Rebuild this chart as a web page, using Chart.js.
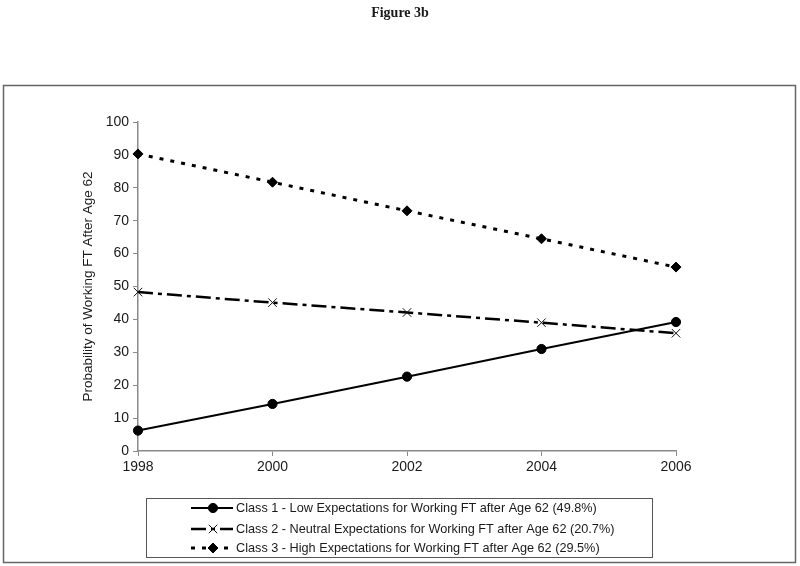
<!DOCTYPE html>
<html>
<head>
<meta charset="utf-8">
<script src="https://cdn.jsdelivr.net/npm/chart.js@4/dist/chart.umd.min.js"></script>
<style>
    html, body { margin: 0; padding: 0; background: #fff; }
    #wrap { width: 800px; height: 566px; position: relative; }
</style>
</head>
<body>
<div id="wrap"><canvas id="myChart" width="800" height="566"></canvas></div>
<script>
const years = ['1998', '2000', '2002', '2004', '2006'];
const class1Values = [6.2, 14.3, 22.6, 31.0, 39.2];
const class2Values = [48.3, 45.1, 42.1, 39.0, 35.8];
const class3Values = [90.3, 81.7, 73.0, 64.5, 55.9];
const seriesLabels = [
    'Class 1 - Low Expectations for Working FT after Age 62 (49.8%)',
    'Class 2 - Neutral Expectations for Working FT after Age 62 (20.7%)',
    'Class 3 - High Expectations for Working FT after Age 62 (29.5%)'
];
const yTicks = [0, 10, 20, 30, 40, 50, 60, 70, 80, 90, 100];

const axisGray = '#8a8a8a';
const textColor = '#1a1a1a';

// frame, title and the boxed legend under the plot
const decorPlugin = {
    id: 'decor',
    afterDraw(chart) {
        const ctx = chart.ctx;
        ctx.save();

        ctx.strokeStyle = '#666';
        ctx.lineWidth = 1.5;
        ctx.strokeRect(3.5, 85.5, 792, 477);

        ctx.fillStyle = textColor;
        ctx.font = 'bold 14px "Liberation Serif", "DejaVu Serif", serif';
        ctx.textAlign = 'center';
        ctx.textBaseline = 'middle';
        ctx.fillText('Figure 3b', 400, 13);

        // legend box
        ctx.strokeStyle = '#555';
        ctx.lineWidth = 1;
        ctx.strokeRect(146.5, 498.5, 506, 59);

        const rowsY = [508, 529, 548];
        chart.data.datasets.forEach((ds, i) => {
            const y = rowsY[i];
            ctx.save();
            ctx.strokeStyle = ds.borderColor;
            ctx.lineWidth = ds.borderWidth;
            ctx.setLineDash(ds.borderDash || []);
            ctx.beginPath();
            ctx.moveTo(191, y);
            ctx.lineTo(233, y);
            ctx.stroke();
            ctx.restore();

            ctx.fillStyle = ds.pointBackgroundColor;
            ctx.strokeStyle = ds.pointBorderColor;
            ctx.lineWidth = ds.pointBorderWidth;
            Chart.helpers.drawPoint(ctx, {
                pointStyle: ds.pointStyle,
                radius: ds.pointRadius,
                borderWidth: ds.pointBorderWidth,
                rotation: 0
            }, 213, y);

            ctx.fillStyle = textColor;
            ctx.font = '12.7px "Liberation Sans", Arial, sans-serif';
            ctx.textAlign = 'left';
            ctx.textBaseline = 'middle';
            ctx.fillText(ds.label, 236, y);
        });
        ctx.restore();
    }
};

const ctx = document.getElementById('myChart').getContext('2d');
new Chart(ctx, {
    type: 'line',
    data: {
        labels: years,
        datasets: [{
            label: seriesLabels[0],
            data: class1Values,
            borderColor: '#000',
            borderWidth: 2,
            pointStyle: 'circle',
            pointRadius: 4.6,
            pointBackgroundColor: '#000',
            pointBorderColor: '#000',
            pointBorderWidth: 1
        }, {
            label: seriesLabels[1],
            data: class2Values,
            borderColor: '#000',
            borderWidth: 2.5,
            borderDash: [15, 5, 4, 5],
            pointStyle: 'crossRot',
            pointRadius: 6,
            pointBackgroundColor: '#000',
            pointBorderColor: '#111',
            pointBorderWidth: 1
        }, {
            label: seriesLabels[2],
            data: class3Values,
            borderColor: '#000',
            borderWidth: 3,
            borderDash: [4, 7],
            pointStyle: 'rectRot',
            pointRadius: 5,
            pointBackgroundColor: '#000',
            pointBorderColor: '#000',
            pointBorderWidth: 1
        }]
    },
    options: {
        responsive: false,
        animation: false,
        layout: {
            padding: { left: 76, right: 124, top: 122, bottom: 85 }
        },
        plugins: {
            legend: { display: false },
            tooltip: { enabled: false }
        },
        scales: {
            x: {
                afterFit(scale) { scale.height = 30; },
                grid: { drawOnChartArea: false, drawTicks: true, tickLength: 5, color: axisGray },
                border: { color: axisGray, width: 1.5 },
                ticks: {
                    color: textColor,
                    padding: 3,
                    maxRotation: 0,
                    font: { family: '"Liberation Sans", Arial, sans-serif', size: 14 }
                }
            },
            y: {
                min: 0,
                max: 100,
                afterFit(scale) { scale.width = 62; },
                afterBuildTicks(scale) { scale.ticks = yTicks.map(v => ({ value: v })); },
                grid: { drawOnChartArea: false, drawTicks: true, tickLength: 5, color: axisGray },
                border: { color: axisGray, width: 1.5 },
                ticks: {
                    color: textColor,
                    padding: 4,
                    font: { family: '"Liberation Sans", Arial, sans-serif', size: 14 }
                },
                title: {
                    display: true,
                    text: 'Probability of Working FT After Age 62',
                    color: textColor,
                    padding: { top: 4, bottom: 0 },
                    font: { family: '"Liberation Sans", Arial, sans-serif', size: 13.5 }
                }
            }
        }
    },
    plugins: [decorPlugin]
});
</script>
</body>
</html>
